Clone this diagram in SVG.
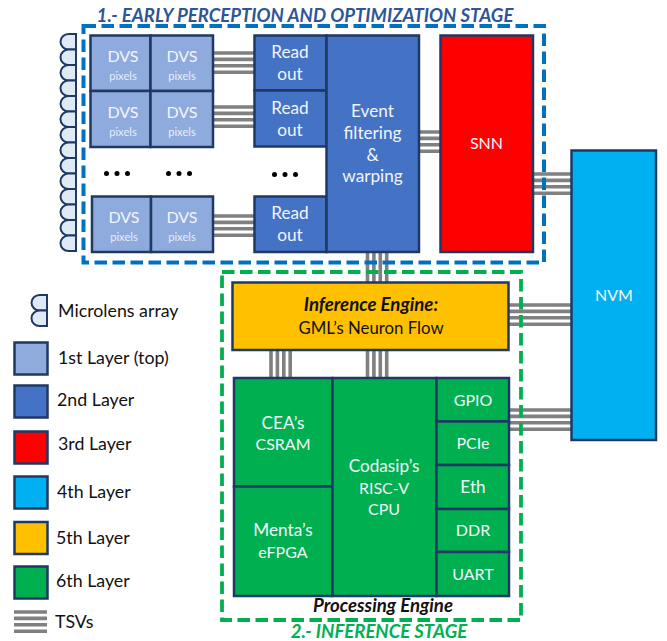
<svg xmlns="http://www.w3.org/2000/svg" width="667" height="641" viewBox="0 0 667 641">
<style>
text{font-family:Lato,"Liberation Sans",sans-serif;text-anchor:middle}
.b{stroke:#1f3864;stroke-width:2.5}
.l1{fill:#8faadc}.l2{fill:#4472c4}.l3{fill:#ff0000}.l4{fill:#00b0f0}.l5{fill:#ffc000}.l6{fill:#00b050}
.w{fill:#f2f5fb;font-size:17.200px}
.c{fill:#f2f5fb;font-size:16px}
.s{fill:#e8eef8;font-size:11.200px}
.k{fill:#111;font-size:17.800px;text-anchor:start}
.tsv{stroke:#808080;stroke-width:3.600;fill:none}
.lens{fill:#deeaf6;stroke:#1f3864;stroke-width:2}
.dot{fill:#000}
.ti{font-weight:700;font-style:italic;font-size:18.600px}
</style>
<defs>
<g id="hb"><path d="M0 0H1M0 6.400H1M0 12.800H1M0 19.200H1" class="tsv" vector-effect="non-scaling-stroke"/></g>
<g id="vb"><path d="M0 0V1M6.400 0V1M12.800 0V1M19.200 0V1" class="tsv" vector-effect="non-scaling-stroke"/></g>
<path id="ln" d="M76 0H68.500a8 7.800 0 0 0 0 15.600H76Z" class="lens"/>
<g id="dots"><circle cx="-10.500" cy="0" r="2.500" class="dot"/><circle cx="0" cy="0" r="2.500" class="dot"/><circle cx="10.500" cy="0" r="2.500" class="dot"/></g>
</defs>
<g id="connectors">
<use href="#hb" transform="translate(213 53) scale(41 1)"/>
<use href="#hb" transform="translate(213 107) scale(41 1)"/>
<use href="#hb" transform="translate(213 216) scale(41 1)"/>
<use href="#hb" transform="translate(419 132) scale(21 1)"/>
<use href="#hb" transform="translate(533 174) scale(38 1)"/>
<use href="#hb" transform="translate(509 305) scale(62 1)"/>
<use href="#hb" transform="translate(509 410) scale(62 1)"/>
<use href="#vb" transform="translate(367.500 252) scale(1 30)"/>
<use href="#vb" transform="translate(367.500 350) scale(1 28)"/>
<use href="#vb" transform="translate(271 350) scale(1 28)"/>
</g>
<g id="microlens-array">
<use href="#ln" y="34"/><use href="#ln" y="49.500"/><use href="#ln" y="65"/><use href="#ln" y="80.500"/><use href="#ln" y="96"/><use href="#ln" y="111.500"/><use href="#ln" y="127"/><use href="#ln" y="142.500"/><use href="#ln" y="158"/><use href="#ln" y="173.500"/><use href="#ln" y="189"/><use href="#ln" y="204.500"/><use href="#ln" y="220"/><use href="#ln" y="235.500"/>
</g>
<g id="dvs-1-1"><rect x="90.500" y="35.500" width="60" height="55.500" class="b l1"/><text x="123" y="62" class="c">DVS</text><text x="123" y="80" class="s">pixels</text></g>
<g id="dvs-1-2"><rect x="150.500" y="35.500" width="62.500" height="55.500" class="b l1"/><text x="182" y="62" class="c">DVS</text><text x="182" y="80" class="s">pixels</text></g>
<g id="dvs-2-1"><rect x="90.500" y="91" width="60" height="56" class="b l1"/><text x="123" y="118" class="c">DVS</text><text x="123" y="136" class="s">pixels</text></g>
<g id="dvs-2-2"><rect x="150.500" y="91" width="62.500" height="56" class="b l1"/><text x="182" y="118" class="c">DVS</text><text x="182" y="136" class="s">pixels</text></g>
<g id="dvs-3-1"><rect x="92" y="196.500" width="59" height="55.500" class="b l1"/><text x="124" y="223" class="c">DVS</text><text x="124" y="241" class="s">pixels</text></g>
<g id="dvs-3-2"><rect x="151" y="196.500" width="62" height="55.500" class="b l1"/><text x="182" y="223" class="c">DVS</text><text x="182" y="241" class="s">pixels</text></g>
<g id="ellipsis-1"><use href="#dots" x="117" y="173.500"/></g>
<g id="ellipsis-2"><use href="#dots" x="179" y="173.500"/></g>
<g id="ellipsis-3"><use href="#dots" x="285" y="174.500"/></g>
<g id="readout-1"><rect x="254.500" y="35.500" width="72" height="55" class="b l2"/><text x="290" y="58" class="w">Read</text><text x="290" y="80" class="w">out</text></g>
<g id="readout-2"><rect x="254.500" y="90.500" width="72" height="56" class="b l2"/><text x="290" y="114" class="w">Read</text><text x="290" y="136" class="w">out</text></g>
<g id="readout-3"><rect x="254.500" y="196.500" width="72" height="55.500" class="b l2"/><text x="290" y="219" class="w">Read</text><text x="290" y="241" class="w">out</text></g>
<g id="event"><rect x="326.500" y="35.500" width="92.500" height="216.500" class="b l2"/><text x="372.500" y="117" class="w">Event</text><text x="372.500" y="139" class="w">filtering</text><text x="372.500" y="161" class="w">&amp;</text><text x="372.500" y="182" class="w">warping</text></g>
<g id="snn"><rect x="440.500" y="35.500" width="92.500" height="216.500" class="b l3"/><text x="486.500" y="149" class="c">SNN</text></g>
<g id="nvm"><rect x="571.500" y="150.500" width="84.500" height="289.500" class="b l4"/><text x="614" y="301" class="c">NVM</text></g>
<g id="inference"><rect x="232.500" y="282.500" width="276" height="67.500" class="b l5"/><text x="371" y="311" fill="#111" class="ti">Inference Engine:</text><text x="371" y="334" fill="#111" font-size="16.800">GML’s Neuron Flow</text></g>
<g id="csram"><rect x="234" y="378" width="98.500" height="108.500" class="b l6"/><text x="283" y="429" class="w">CEA’s</text><text x="283" y="450" class="c">CSRAM</text></g>
<g id="efpga"><rect x="234" y="486.500" width="98.500" height="109.500" class="b l6"/><text x="283" y="536" class="w">Menta’s</text><text x="283" y="558" class="c">eFPGA</text></g>
<g id="cpu"><rect x="332.500" y="378" width="104" height="218" class="b l6"/><text x="384" y="472" class="w">Codasip’s</text><text x="384" y="494" class="c">RISC-V</text><text x="384" y="515" class="c">CPU</text></g>
<g id="gpio"><rect x="436.500" y="378" width="72.500" height="43.500" class="b l6"/><text x="473" y="406" class="c">GPIO</text></g>
<g id="pcie"><rect x="436.500" y="421.500" width="72.500" height="43.500" class="b l6"/><text x="473" y="449" class="c">PCIe</text></g>
<g id="eth"><rect x="436.500" y="465" width="72.500" height="44" class="b l6"/><text x="473" y="493" class="w">Eth</text></g>
<g id="ddr"><rect x="436.500" y="509" width="72.500" height="43" class="b l6"/><text x="473" y="536" class="c">DDR</text></g>
<g id="uart"><rect x="436.500" y="552" width="72.500" height="44" class="b l6"/><text x="473" y="580" class="c">UART</text></g>
<g id="stage-1"><rect x="83.500" y="26" width="460.500" height="236.500" fill="none" stroke="#0070c0" stroke-width="4" stroke-dasharray="12.500 5.500"/><text x="305" y="22" fill="#2f5597" class="ti">1.- EARLY PERCEPTION AND OPTIMIZATION STAGE</text></g>
<g id="stage-2"><rect x="222" y="272" width="299" height="348" fill="none" stroke="#00b050" stroke-width="3.800" stroke-dasharray="12.500 5.500"/><text x="379" y="638" fill="#00b050" class="ti">2.- INFERENCE STAGE</text><text x="383" y="612" fill="#111" class="ti">Processing Engine</text></g>
<g id="legend">
<g id="legend-lens"><use href="#ln" x="-29" y="295"/><use href="#ln" x="-29" y="310.500"/><text x="58" y="317" class="k">Microlens array</text></g>
<g id="legend-1"><rect x="14.500" y="342.500" width="33" height="32" class="b l1"/><text x="58" y="364" class="k">1st Layer (top)</text></g>
<g id="legend-2"><rect x="14.500" y="385.500" width="33" height="32" class="b l2"/><text x="57" y="406" class="k">2nd Layer</text></g>
<g id="legend-3"><rect x="14.500" y="431.500" width="33" height="32" class="b l3"/><text x="58" y="450" class="k">3rd Layer</text></g>
<g id="legend-4"><rect x="14.500" y="476.500" width="33" height="32" class="b l4"/><text x="57" y="498" class="k">4th Layer</text></g>
<g id="legend-5"><rect x="14.500" y="522" width="33" height="32" class="b l5"/><text x="56" y="544" class="k">5th Layer</text></g>
<g id="legend-6"><rect x="14.500" y="566.500" width="33" height="32" class="b l6"/><text x="56" y="587" class="k">6th Layer</text></g>
<g id="legend-tsv"><use href="#hb" transform="translate(14 612) scale(33 1)"/><text x="55" y="628" class="k">TSVs</text></g>
</g>
</svg>
